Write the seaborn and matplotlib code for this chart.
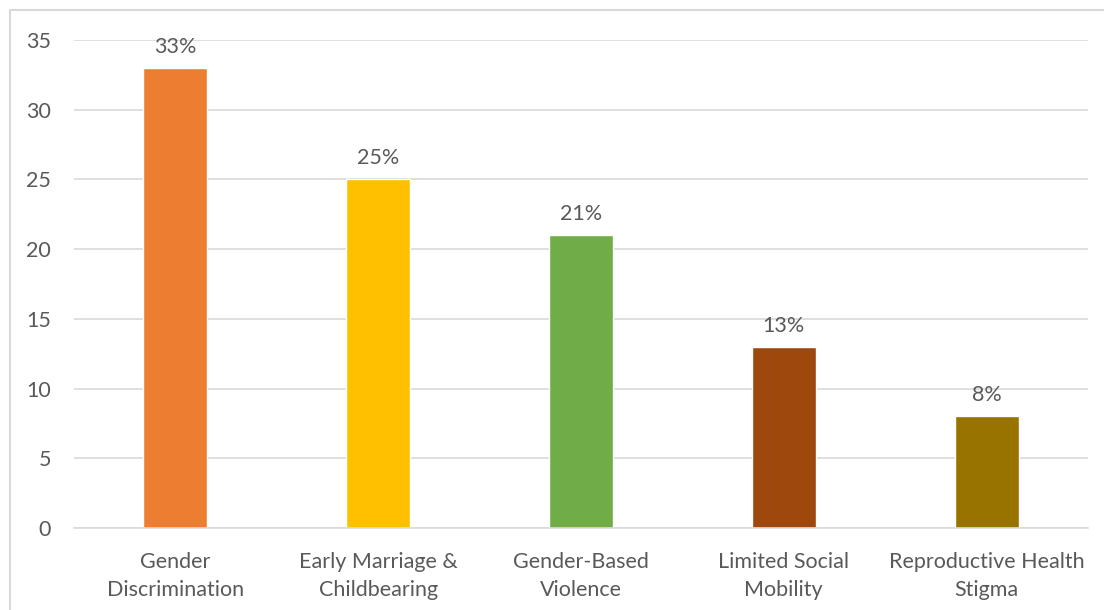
import matplotlib
matplotlib.use("Agg")
import matplotlib.pyplot as plt
import seaborn as sns
import pandas as pd
from matplotlib.patches import Rectangle

categories = [
    "Gender\nDiscrimination",
    "Early Marriage &\nChildbearing",
    "Gender-Based\nViolence",
    "Limited Social\nMobility",
    "Reproductive Health\nStigma",
]
values = [33, 25, 21, 13, 8]
labels = ["33%", "25%", "21%", "13%", "8%"]
colors = ["#ED7D31", "#FFC000", "#70AD47", "#9E480E", "#997300"]

sns.set_theme(style="white")
plt.rcParams["font.family"] = ["Lato", "DejaVu Sans"]

text_color = "#595959"
grid_color = "#D9D9D9"
fs = 15.5

W, H = 1104, 610
fig = plt.figure(figsize=(W / 100, H / 100), dpi=100)
fig.patch.set_facecolor("white")

# outer chart frame (extends past the right and bottom edges)
fig.patches.append(Rectangle((10 / W, -0.1), 1.2, (H - 10) / H + 0.1,
                             transform=fig.transFigure, fill=False,
                             edgecolor=grid_color, linewidth=1.5))

ax = fig.add_axes([74 / W, 1 - 528 / H, (1088 - 74) / W, (528 - 40) / H])

df = pd.DataFrame({"cat": categories, "val": values})
sns.barplot(data=df, x="cat", y="val", hue="cat", palette=colors,
            width=0.315, legend=False, ax=ax, saturation=1)

ax.set_ylim(0, 35)
ax.set_yticks(range(0, 36, 5))
ax.set_xlim(-0.5, len(categories) - 0.5)
ax.yaxis.grid(True, color=grid_color, linewidth=1.2)
ax.set_axisbelow(True)
for s in ["top", "right", "left"]:
    ax.spines[s].set_visible(False)
ax.spines["bottom"].set_color(grid_color)
ax.spines["bottom"].set_linewidth(1.2)
ax.set_xlabel("")
ax.set_ylabel("")
ax.tick_params(axis="both", length=0, colors=text_color, labelsize=fs)
ax.tick_params(axis="y", pad=16.5)
ax.tick_params(axis="x", pad=17.5)
for t in ax.get_xticklabels():
    t.set_linespacing(1.48)

for i, (v, lab) in enumerate(zip(values, labels)):
    ax.annotate(lab, (i, v), xytext=(0, 8), textcoords="offset points",
                ha="center", va="bottom", color=text_color, fontsize=fs)

fig.savefig("out.png", dpi=100, facecolor="white")
